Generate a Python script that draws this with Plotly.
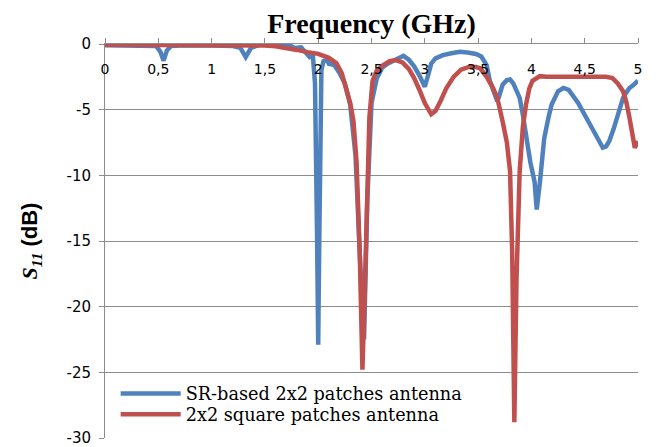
import plotly.graph_objects as go

# ---- data ----
freq_sr = [0.00, 0.10, 0.20, 0.30, 0.40, 0.48, 0.52, 0.55, 0.58, 0.62, 0.70, 0.80, 0.90, 1.00,
           1.10, 1.20, 1.27, 1.32, 1.37, 1.45, 1.55, 1.65, 1.72, 1.78, 1.84, 1.88, 1.92, 1.95,
           1.97, 1.99, 2.00, 2.01, 2.03, 2.05, 2.08, 2.10, 2.15, 2.20, 2.25, 2.30, 2.35, 2.39,
           2.43, 2.46, 2.50, 2.55, 2.60, 2.65, 2.70, 2.75, 2.80, 2.85, 2.90, 2.95, 3.00, 3.03,
           3.06, 3.10, 3.17, 3.25, 3.33, 3.40, 3.48, 3.53, 3.58, 3.61, 3.66, 3.68, 3.70, 3.73,
           3.77, 3.80, 3.83, 3.86, 3.89, 3.92, 3.95, 3.99, 4.03, 4.05, 4.08, 4.12, 4.16, 4.19,
           4.25, 4.30, 4.35, 4.39, 4.44, 4.48, 4.53, 4.58, 4.63, 4.67, 4.70, 4.73, 4.77, 4.80,
           4.83, 4.86, 4.89, 4.92, 4.96, 5.00]
s11_sr = [-0.10, -0.12, -0.10, -0.15, -0.12, -0.15, -0.6, -1.27, -0.5, -0.15, -0.12, -0.15, -0.10, -0.12,
          -0.10, -0.15, -0.3, -1.0, -0.3, -0.05, 0.0, -0.1, -0.05, -0.3, -0.25, -0.6, -1.0, -0.9,
          -3.0, -15.0, -22.9, -15.0, -2.0, -1.3, -1.2, -1.5, -1.6, -2.2, -3.0, -4.6, -8.5, -16.0,
          -22.5, -12.0, -4.5, -2.6, -1.8, -1.5, -1.3, -1.1, -0.9, -1.2, -1.7, -2.4, -3.25, -2.4,
          -1.5, -1.1, -0.85, -0.7, -0.6, -0.65, -0.76, -0.95, -1.6, -2.8, -4.1, -4.35, -3.9, -3.1,
          -2.75, -2.7, -3.0, -3.5, -4.1, -5.4, -7.2, -9.0, -10.5, -12.6, -10.5, -7.2, -5.6, -4.6,
          -3.6, -3.35, -3.5, -3.9, -4.5, -5.1, -5.8, -6.6, -7.3, -7.9, -7.8, -7.4, -6.5, -5.6,
          -4.8, -4.1, -3.7, -3.35, -3.1, -2.8]

freq_sq = [0.0, 0.5, 1.0, 1.3, 1.5, 1.6, 1.7, 1.8, 1.9, 2.0, 2.1, 2.17, 2.22, 2.26, 2.30, 2.33,
           2.36, 2.39, 2.415, 2.44, 2.46, 2.48, 2.51, 2.55, 2.61, 2.67, 2.73, 2.79, 2.85, 2.90,
           2.95, 3.00, 3.06, 3.10, 3.15, 3.20, 3.27, 3.34, 3.42, 3.48, 3.52, 3.58, 3.64, 3.68,
           3.73, 3.77, 3.80, 3.82, 3.84, 3.86, 3.89, 3.92, 3.95, 3.98, 4.01, 4.08, 4.14, 4.20,
           4.30, 4.40, 4.50, 4.60, 4.64, 4.70, 4.76, 4.81, 4.86, 4.89, 4.92, 4.95, 4.97, 5.00]
s11_sq = [-0.05, -0.05, -0.05, -0.08, -0.12, -0.18, -0.28, -0.45, -0.62, -0.75, -1.05, -1.45, -2.2, -3.35, -4.5, -5.8,
          -9.0, -16.0, -24.8, -18.0, -11.0, -5.6, -2.8, -2.0, -1.6, -1.3, -1.22, -1.4, -1.9, -2.6,
          -3.5, -4.5, -5.35, -5.1, -4.3, -3.4, -2.5, -1.95, -1.73, -1.75, -1.85, -2.5, -3.35, -4.1,
          -5.9, -7.5, -9.7, -16.0, -28.8, -18.0, -9.7, -6.3, -4.6, -3.4, -2.8, -2.45, -2.5, -2.5,
          -2.48, -2.5, -2.48, -2.45, -2.45, -2.5, -2.6, -3.0, -3.6, -4.4, -5.6, -7.2, -7.9, -7.4]

x_ticks = [0, 0.5, 1, 1.5, 2, 2.5, 3, 3.5, 4, 4.5, 5]
x_tick_labels = ["0", "0,5", "1", "1,5", "2", "2,5", "3", "3,5", "4", "4,5", "5"]
y_ticks = [0, -5, -10, -15, -20, -25, -30]
y_tick_labels = ["0", "-5", "-10", "-15", "-20", "-25", "-30"]

names = ["SR-based 2x2 patches antenna", "2x2 square patches antenna"]
colors = ["#4F81BD", "#C0504D"]

fig = go.Figure()
fig.add_trace(go.Scatter(x=freq_sr, y=s11_sr, mode="lines", name=names[0], legend="legend",
                         line=dict(color=colors[0], width=4.5)))
fig.add_trace(go.Scatter(x=freq_sq, y=s11_sq, mode="lines", name=names[1], legend="legend2",
                         line=dict(color=colors[1], width=4.5)))

grey = "#8c8c8c"
leg_font = dict(family="DejaVu Serif", size=17.7, color="black")
fig.update_layout(
    width=666, height=447,
    # the page body adds an 8px offset; margins compensate
    margin=dict(l=97, r=36, t=36, b=17),
    paper_bgcolor="white", plot_bgcolor="white",
    showlegend=True,
    legend=dict(x=0.02, y=0.112, xanchor="left", yanchor="middle",
                bgcolor="rgba(0,0,0,0)", borderwidth=0, itemwidth=60,
                font=leg_font),
    legend2=dict(x=0.02, y=0.059, xanchor="left", yanchor="middle",
                 bgcolor="rgba(0,0,0,0)", borderwidth=0, itemwidth=60,
                 font=leg_font),
    xaxis=dict(range=[0, 5], side="top", tickmode="array", tickvals=x_ticks,
               ticktext=x_tick_labels, ticklabelposition="outside",
               ticklabelstandoff=-42, automargin=False,
               ticks="outside", ticklen=5, tickcolor=grey,
               showline=True, linecolor=grey, linewidth=1, showgrid=False,
               zeroline=False,
               tickfont=dict(family="DejaVu Sans", size=14, color="black"),
               title=dict(text="<b>Frequency (GHz)</b>", standoff=39,
                          font=dict(family="Liberation Serif", size=28, color="black"))),
    yaxis=dict(range=[-30, 0], tickmode="array", tickvals=y_ticks,
               ticktext=y_tick_labels, automargin=False, ticklabelstandoff=5,
               ticks="outside", ticklen=5, tickcolor=grey,
               showline=True, linecolor=grey, linewidth=1,
               showgrid=True, gridcolor=grey, gridwidth=1, zeroline=False,
               tickfont=dict(family="DejaVu Sans", size=15, color="black"),
               title=dict(text="<span style='font-family:Liberation Serif'><b><i>S</i><sub><i>11</i></sub></b></span><b> (dB)</b>",
                          standoff=22,
                          font=dict(family="Liberation Sans", size=22, color="black"))),
)

fig.write_html("out.html")
